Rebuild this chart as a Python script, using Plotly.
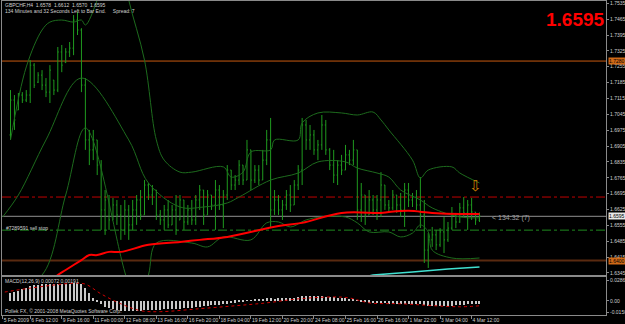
import plotly.graph_objects as go

# ---------------- data ----------------
bar_idx = list(range(120))
opens = [1.6954, 1.7108, 1.7064, 1.7130, 1.7108, 1.7130, 1.7262, 1.7187, 1.7218, 1.7174,
         1.7143, 1.7196, 1.7152, 1.7320, 1.7275, 1.7320, 1.7337, 1.7461, 1.7417, 1.7174,
         1.6932, 1.6888, 1.6932, 1.6821, 1.6623, 1.6667, 1.6579, 1.6645, 1.6601, 1.6535,
         1.6623, 1.6557, 1.6623, 1.6667, 1.6601, 1.6733, 1.6689, 1.6711, 1.6601, 1.6579,
         1.6623, 1.6557, 1.6623, 1.6579, 1.6667, 1.6570, 1.6623, 1.6579, 1.6667, 1.6711,
         1.6601, 1.6689, 1.6645, 1.6711, 1.6645, 1.6689, 1.6799, 1.6733, 1.6755, 1.6821,
         1.6755, 1.6888, 1.6755, 1.6799, 1.6755, 1.6843, 1.6932, 1.6623, 1.6667, 1.6623,
         1.6645, 1.6689, 1.6645, 1.6733, 1.6799, 1.6998, 1.6932, 1.6954, 1.6888, 1.6910,
         1.6998, 1.6888, 1.6821, 1.6777, 1.6821, 1.6799, 1.6866, 1.6843, 1.6888, 1.6623,
         1.6689, 1.6601, 1.6667, 1.6623, 1.6667, 1.6733, 1.6645, 1.6632, 1.6689, 1.6645,
         1.6623, 1.6711, 1.6667, 1.6680, 1.6645, 1.6601, 1.6446, 1.6491, 1.6513, 1.6469,
         1.6526, 1.6491, 1.6543, 1.6601, 1.6570, 1.6632, 1.6610, 1.6645, 1.6614, 1.6578]
highs = [1.7152, 1.7130, 1.7139, 1.7143, 1.7152, 1.7284, 1.7271, 1.7231, 1.7240, 1.7205,
         1.7262, 1.7196, 1.7342, 1.7351, 1.7337, 1.7364, 1.7483, 1.7496, 1.7425, 1.7205,
         1.6976, 1.6976, 1.6932, 1.6843, 1.6711, 1.6689, 1.6676, 1.6667, 1.6645, 1.6667,
         1.6645, 1.6667, 1.6689, 1.6711, 1.6755, 1.6742, 1.6733, 1.6711, 1.6623, 1.6645,
         1.6667, 1.6645, 1.6689, 1.6689, 1.6667, 1.6645, 1.6667, 1.6689, 1.6733, 1.6711,
         1.6711, 1.6689, 1.6755, 1.6733, 1.6711, 1.6821, 1.6799, 1.6777, 1.6843, 1.6821,
         1.6932, 1.6888, 1.6821, 1.6821, 1.6888, 1.6976, 1.7029, 1.6711, 1.6689, 1.6667,
         1.6711, 1.6733, 1.6755, 1.6821, 1.7029, 1.7020, 1.6998, 1.6976, 1.6932, 1.7042,
         1.7020, 1.6896, 1.6888, 1.6843, 1.6866, 1.6910, 1.6888, 1.6932, 1.6888, 1.6742,
         1.6689, 1.6711, 1.6689, 1.6689, 1.6790, 1.6733, 1.6667, 1.6711, 1.6689, 1.6698,
         1.6742, 1.6742, 1.6698, 1.6711, 1.6768, 1.6667, 1.6521, 1.6548, 1.6535, 1.6543,
         1.6592, 1.6570, 1.6636, 1.6610, 1.6654, 1.6680, 1.6667, 1.6676, 1.6614, 1.6612]
lows = [1.6932, 1.6976, 1.7064, 1.7095, 1.7099, 1.7095, 1.7161, 1.7183, 1.7152, 1.7121,
        1.7095, 1.7130, 1.7143, 1.7231, 1.7271, 1.7298, 1.7306, 1.7395, 1.7143, 1.6888,
        1.6821, 1.6843, 1.6777, 1.6535, 1.6513, 1.6535, 1.6579, 1.6557, 1.6491, 1.6513,
        1.6491, 1.6535, 1.6557, 1.6579, 1.6601, 1.6667, 1.6645, 1.6579, 1.6557, 1.6535,
        1.6543, 1.6557, 1.6513, 1.6579, 1.6535, 1.6557, 1.6557, 1.6557, 1.6623, 1.6557,
        1.6601, 1.6623, 1.6535, 1.6623, 1.6543, 1.6667, 1.6711, 1.6711, 1.6733, 1.6733,
        1.6755, 1.6711, 1.6742, 1.6733, 1.6755, 1.6821, 1.6543, 1.6601, 1.6601, 1.6579,
        1.6623, 1.6614, 1.6645, 1.6711, 1.6733, 1.6888, 1.6888, 1.6866, 1.6843, 1.6888,
        1.6866, 1.6799, 1.6742, 1.6733, 1.6777, 1.6799, 1.6821, 1.6821, 1.6579, 1.6570,
        1.6557, 1.6601, 1.6601, 1.6579, 1.6592, 1.6623, 1.6610, 1.6623, 1.6610, 1.6592,
        1.6548, 1.6636, 1.6636, 1.6623, 1.6543, 1.6389, 1.6367, 1.6460, 1.6446, 1.6460,
        1.6433, 1.6482, 1.6535, 1.6543, 1.6566, 1.6592, 1.6535, 1.6579, 1.6557, 1.6570]
closes = [1.7108, 1.7020, 1.7130, 1.7108, 1.7130, 1.7262, 1.7174, 1.7218, 1.7174, 1.7143,
          1.7240, 1.7152, 1.7320, 1.7262, 1.7320, 1.7337, 1.7461, 1.7417, 1.7174, 1.6932,
          1.6888, 1.6932, 1.6821, 1.6623, 1.6667, 1.6579, 1.6645, 1.6601, 1.6535, 1.6623,
          1.6557, 1.6623, 1.6667, 1.6601, 1.6733, 1.6689, 1.6711, 1.6601, 1.6579, 1.6623,
          1.6557, 1.6623, 1.6535, 1.6667, 1.6570, 1.6623, 1.6579, 1.6667, 1.6711, 1.6601,
          1.6689, 1.6645, 1.6711, 1.6645, 1.6689, 1.6799, 1.6733, 1.6755, 1.6821, 1.6755,
          1.6888, 1.6755, 1.6799, 1.6755, 1.6843, 1.6932, 1.6623, 1.6667, 1.6623, 1.6645,
          1.6689, 1.6645, 1.6733, 1.6799, 1.6998, 1.6932, 1.6954, 1.6888, 1.6910, 1.6998,
          1.6888, 1.6821, 1.6777, 1.6821, 1.6799, 1.6866, 1.6843, 1.6888, 1.6623, 1.6689,
          1.6601, 1.6667, 1.6623, 1.6667, 1.6733, 1.6645, 1.6632, 1.6689, 1.6645, 1.6623,
          1.6711, 1.6667, 1.6680, 1.6645, 1.6601, 1.6446, 1.6491, 1.6513, 1.6469, 1.6526,
          1.6491, 1.6543, 1.6601, 1.6570, 1.6632, 1.6610, 1.6645, 1.6614, 1.6579, 1.6595]

# Bollinger bands (sampled at bar indices)
bb_mid_idx = [-2, 2, 9, 18, 30, 35, 43, 49, 55, 58, 66, 73, 78, 85, 88, 93, 96, 99, 104, 107, 114, 119]
bb_mid = [1.6592, 1.6689, 1.6932, 1.7205, 1.6932, 1.6742, 1.6636, 1.6636, 1.6654, 1.6680, 1.6755,
          1.6786, 1.6835, 1.6835, 1.6808, 1.6786, 1.6768, 1.6711, 1.6667, 1.6632, 1.6592, 1.6588]
bb_up_idx = [0, 4, 8, 10, 13, 16, 18, 19, 22, 25, 28, 30, 34, 37, 39, 43, 46, 54, 56, 59, 61, 66, 67,
             73, 74, 78, 84, 88, 92, 94, 96, 102, 104, 106, 112, 114, 119]
bb_up = [1.6932, 1.7254, 1.7417, 1.7452, 1.7461, 1.7452, 1.7461, 1.7439, 1.7549, 1.7725, 1.7725,
         1.7549, 1.7284, 1.6932, 1.6843, 1.6790, 1.6790, 1.6813, 1.6768, 1.6790, 1.6879, 1.6888,
         1.6932, 1.6932, 1.7007, 1.7051, 1.7051, 1.7042, 1.7055, 1.7020, 1.6976, 1.6843, 1.6764,
         1.6799, 1.6813, 1.6786, 1.6742]
bb_lo_idx = [0, 8, 14, 19, 29, 32, 35, 37, 46, 50, 54, 61, 65, 68, 71, 75, 79, 85, 88, 91, 96, 99,
             102, 104, 106, 107, 112, 119]
bb_lo = [1.6270, 1.6336, 1.6689, 1.6985, 1.6349, 1.6182, 1.6336, 1.6477, 1.6477, 1.6460, 1.6504,
         1.6491, 1.6566, 1.6570, 1.6548, 1.6579, 1.6592, 1.6592, 1.6566, 1.6526, 1.6526, 1.6504,
         1.6521, 1.6557, 1.6526, 1.6446, 1.6411, 1.6411]

# moving averages
ma_red_idx = [0, 12, 14, 18, 20, 22, 25, 28, 35, 43, 48, 55, 68, 74, 84, 94, 96, 101, 107, 114, 119]
ma_red = [1.6182, 1.6336, 1.6358, 1.6402, 1.6424, 1.6424, 1.6438, 1.6438, 1.6469, 1.6482, 1.6491,
          1.6504, 1.6552, 1.6566, 1.6610, 1.6610, 1.6614, 1.6619, 1.6610, 1.6605, 1.6605]
ma_cyan_idx = [80, 92, 102, 111, 119]
ma_cyan = [1.6290, 1.6336, 1.6349, 1.6363, 1.6371]

# MACD
macd_hist = [0.0094, 0.0106, 0.0118, 0.0140, 0.0160, 0.0177, 0.0190, 0.0195, 0.0200, 0.0200,
             0.0200, 0.0198, 0.0205, 0.0205, 0.0206, 0.0208, 0.0212, 0.0214, 0.0200, 0.0150,
             0.0090, 0.0040, -0.0010, -0.0040, -0.0070, -0.0090, -0.0100, -0.0110, -0.0118, -0.0120,
             -0.0122, -0.0120, -0.0118, -0.0116, -0.0112, -0.0110, -0.0108, -0.0106, -0.0104, -0.0102,
             -0.0100, -0.0096, -0.0094, -0.0092, -0.0090, -0.0086, -0.0082, -0.0078, -0.0072, -0.0066,
             -0.0060, -0.0055, -0.0050, -0.0045, -0.0040, -0.0034, -0.0028, -0.0022, -0.0015, -0.0008,
             0.0002, 0.0010, 0.0016, 0.0020, 0.0024, 0.0030, 0.0030, 0.0028, 0.0030, 0.0032,
             0.0034, 0.0036, 0.0040, 0.0044, 0.0055, 0.0058, 0.0060, 0.0058, 0.0055, 0.0055,
             0.0052, 0.0048, 0.0042, 0.0038, 0.0034, 0.0030, 0.0025, 0.0020, 0.0005, -0.0010,
             -0.0018, -0.0022, -0.0026, -0.0028, -0.0026, -0.0030, -0.0032, -0.0032, -0.0034, -0.0035,
             -0.0034, -0.0036, -0.0036, -0.0037, -0.0038, -0.0050, -0.0060, -0.0062, -0.0064, -0.0064,
             -0.0062, -0.0060, -0.0056, -0.0054, -0.0050, -0.0045, -0.0042, -0.0040, -0.0036, -0.0032]
macd_sig_idx = [-3, 5, 16, 19, 23, 28, 33, 38, 48, 57, 65, 73, 82, 86, 91, 99, 114, 119]
macd_sig = [0.0094, 0.0153, 0.0212, 0.0201, 0.0083, -0.0035, -0.0118, -0.0130, -0.0094, -0.0059,
            -0.0024, 0.0024, 0.0047, 0.0035, -0.0024, -0.0035, -0.0071, -0.0059]

# levels
level_tp = 1.7280
level_red = 1.6680
level_bid = 1.6595
level_stop = 1.6534
level_sl = 1.6400
arrow_idx = 118
arrow_price = 1.6725

# axis labels
price_ticks = [1.7535, 1.7465, 1.7395, 1.7325, 1.7255, 1.7185, 1.7115, 1.7045, 1.6975, 1.6905,
               1.6835, 1.6765, 1.6695, 1.6625, 1.6555, 1.6485, 1.6415, 1.6345]
macd_tickvals = [0.0245, 0.0, -0.0135]
macd_ticktext = ["0.02866", "0.00", "-0.01502"]
time_idx = [-2, 5, 13, 21, 29, 37, 45, 53, 61, 69, 77, 85, 93, 101, 109, 117]
time_text = ["5 Feb 2009", "6 Feb 12:00", "9 Feb 16:00", "11 Feb 00:00", "12 Feb 08:00",
             "13 Feb 16:00", "16 Feb 20:00", "18 Feb 04:00", "19 Feb 12:00", "20 Feb 20:00",
             "24 Feb 08:00", "25 Feb 16:00", "26 Feb 16:00", "1 Mar 22:00", "3 Mar 04:00",
             "4 Mar 12:00"]

# ---------------- styling ----------------
BG = "#000000"
BAR = "#1f9a1f"
BAND = "#1d6b1d"
AXC = "#8a8a8a"
TXT = "#d0d0d0"
FONT = "Liberation Sans"
X0, X1 = -2.16, 151.1
W, H = 625, 324
ML, MR, MT, MB = 2, 19, 1, 9


def px(xp):
    return (xp - ML) / (W - ML - MR)


def py(yp):
    return (H - MB - yp) / (H - MT - MB)


fig = go.Figure()

fig.add_trace(go.Scatter(x=bb_up_idx, y=bb_up, mode="lines", line=dict(color=BAND, width=1, shape="spline"),
                         xaxis="x", yaxis="y", hoverinfo="skip"))
fig.add_trace(go.Scatter(x=bb_mid_idx, y=bb_mid, mode="lines", line=dict(color=BAND, width=1, shape="spline"),
                         xaxis="x", yaxis="y", hoverinfo="skip"))
fig.add_trace(go.Scatter(x=bb_lo_idx, y=bb_lo, mode="lines", line=dict(color=BAND, width=1, shape="spline"),
                         xaxis="x", yaxis="y", hoverinfo="skip"))
fig.add_trace(go.Scatter(x=ma_cyan_idx, y=ma_cyan, mode="lines", line=dict(color="#40e0d0", width=1.5),
                         xaxis="x", yaxis="y", hoverinfo="skip"))
fig.add_trace(go.Ohlc(x=bar_idx, open=opens, high=highs, low=lows, close=closes,
                      increasing=dict(line=dict(color=BAR, width=1)),
                      decreasing=dict(line=dict(color=BAR, width=1)),
                      tickwidth=0.25, xaxis="x", yaxis="y", hoverinfo="skip"))
fig.add_trace(go.Scatter(x=ma_red_idx, y=ma_red, mode="lines", line=dict(color="#ff0000", width=2, shape="spline"),
                         xaxis="x", yaxis="y", hoverinfo="skip"))
fig.add_trace(go.Scatter(x=[arrow_idx], y=[arrow_price], mode="text", text=["⇩"],
                         textfont=dict(color="#d08000", size=15, family="DejaVu Sans"),
                         xaxis="x", yaxis="y", hoverinfo="skip"))

fig.add_trace(go.Bar(x=bar_idx, y=macd_hist, marker=dict(color="#c8c8c8", line=dict(width=0)), width=0.28,
                     xaxis="x2", yaxis="y2", hoverinfo="skip"))
fig.add_trace(go.Scatter(x=macd_sig_idx, y=macd_sig, mode="lines", line=dict(color="#d00000", width=1, dash="dot", shape="spline"),
                         xaxis="x2", yaxis="y2", hoverinfo="skip"))

shapes = []
def hline(y, color, dash="solid", width=1):
    shapes.append(dict(type="line", xref="x domain", yref="y", x0=0, x1=1, y0=y, y1=y,
                       line=dict(color=color, width=width, dash=dash), layer="below"))

hline(level_tp, "#c85a10")
hline(level_red, "#c00000", "dashdot")
hline(level_bid, "#909090")
hline(level_stop, "#1f8a1f", "dashdot")
hline(level_sl, "#5a2a10", width=2)
fig.update_layout(shapes=shapes)

annotations = [
    dict(text="GBPCHF,H4  1.6578  1.6612  1.6570  1.6595", x=px(3), y=py(4.5), xref="paper", yref="paper",
         xanchor="left", yanchor="middle", showarrow=False, font=dict(size=5, color=TXT, family=FONT)),
    dict(text="134 Minutes and 32 Seconds Left to Bar End.     Spread: 7", x=px(3), y=py(10.5), xref="paper",
         yref="paper", xanchor="left", yanchor="middle", showarrow=False, font=dict(size=5, color=TXT, family=FONT)),
    dict(text="<b>1.6595</b>", x=px(575), y=py(20), xref="paper", yref="paper", xanchor="center", yanchor="middle",
         showarrow=False, font=dict(size=19, color="#ff0000", family=FONT)),
    dict(text="#7289591 sell stop", x=px(4), y=py(228), xref="paper", yref="paper", xanchor="left",
         yanchor="middle", showarrow=False, font=dict(size=5, color=TXT, family=FONT)),
    dict(text="< 134:32 (7)", x=px(490), y=py(218), xref="paper", yref="paper", xanchor="left",
         yanchor="middle", showarrow=False, font=dict(size=7, color="#a0a0a0", family=FONT)),
    dict(text="MACD(12,26,9) 0.00072 0.00191", x=px(3), y=py(281), xref="paper", yref="paper", xanchor="left",
         yanchor="middle", showarrow=False, font=dict(size=5, color=TXT, family=FONT)),
    dict(text="Pollek FX, © 2001-2008 MetaQuotes Software Corp.", x=px(3), y=py(311), xref="paper",
         yref="paper", xanchor="left", yanchor="middle", showarrow=False, font=dict(size=5, color=TXT, family=FONT)),
]
for val, bg, fg in [(level_tp, "#d06a18", "#000000"), (level_bid, "#e8e8e8", "#000000"), (level_sl, "#d06a18", "#000000")]:
    annotations.append(dict(text=f"{val:.4f}", x=px(608), y=val, xref="paper", yref="y", xanchor="left",
                            yanchor="middle", showarrow=False, bgcolor=bg, borderpad=0,
                            font=dict(size=5, color=fg, family=FONT)))
fig.update_layout(annotations=annotations)

fig.update_layout(
    width=W, height=H, margin=dict(l=ML, r=MR, t=MT, b=MB, autoexpand=False),
    paper_bgcolor=BG, plot_bgcolor=BG, showlegend=False,
    font=dict(family=FONT, size=5, color=TXT),
    xaxis=dict(domain=[0, 1], range=[X0, X1], anchor="y", showticklabels=False, showgrid=False,
               zeroline=False, rangeslider=dict(visible=False), showline=True, linecolor=AXC, mirror=True,
               automargin=False),
    yaxis=dict(domain=[py(275), 1], range=[1.6336, 1.7545], side="right", tickvals=price_ticks,
               ticktext=[f"{v:.4f}" for v in price_ticks], tickfont=dict(size=5, color=TXT, family=FONT),
               ticks="outside", ticklen=2, tickcolor=AXC, showgrid=False, zeroline=False,
               showline=True, linecolor=AXC, mirror=True, automargin=False),
    xaxis2=dict(domain=[0, 1], range=[X0, X1], anchor="y2", tickvals=time_idx, ticktext=time_text,
                ticklabelposition="outside right", tickangle=0, tickfont=dict(size=5, color=TXT, family=FONT),
                ticks="outside", ticklen=3, tickcolor=AXC, showgrid=False, zeroline=False,
                showline=True, linecolor=AXC, mirror=True, automargin=False),
    yaxis2=dict(domain=[0, py(277)], range=[-0.0170, 0.0287], side="right", tickvals=macd_tickvals,
                ticktext=macd_ticktext, tickfont=dict(size=5, color=TXT, family=FONT),
                ticks="outside", ticklen=2, tickcolor=AXC, showgrid=False, zeroline=False,
                showline=True, linecolor=AXC, mirror=True, automargin=False),
    bargap=0,
)

fig.write_html("out.html")
